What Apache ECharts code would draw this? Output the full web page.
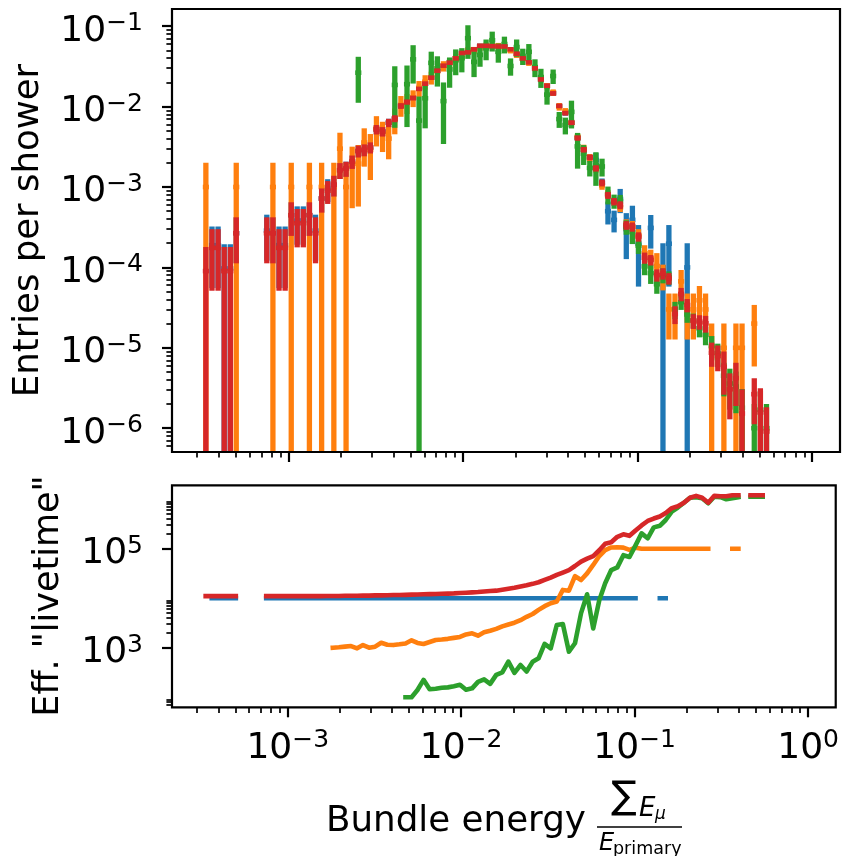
<!DOCTYPE html>
<html><head><meta charset="utf-8">
<script src="https://cdn.jsdelivr.net/npm/echarts@6/dist/echarts.min.js"></script>
<style>html,body{margin:0;padding:0;background:#fff}#c{width:842px;height:856px}</style>
</head><body><div id="c"></div>
<script>
// ---- bins: log10 of bin centres of the bundle-energy fraction ----
const binCenterLog10 = [-3.473,-3.438,-3.403,-3.368,-3.333,-3.299,-3.264,-3.229,-3.194,-3.159,
 -3.124,-3.089,-3.054,-3.019,-2.984,-2.950,-2.915,-2.880,-2.845,-2.810,
 -2.775,-2.740,-2.705,-2.670,-2.635,-2.600,-2.566,-2.531,-2.496,-2.461,
 -2.426,-2.391,-2.356,-2.321,-2.286,-2.252,-2.217,-2.182,-2.147,-2.112,
 -2.077,-2.042,-2.007,-1.972,-1.937,-1.903,-1.868,-1.833,-1.798,-1.763,
 -1.728,-1.693,-1.658,-1.623,-1.588,-1.554,-1.519,-1.484,-1.449,-1.414,
 -1.379,-1.344,-1.309,-1.274,-1.239,-1.204,-1.170,-1.135,-1.100,-1.065,
 -1.030,-0.995,-0.960,-0.925,-0.890,-0.855,-0.821,-0.786,-0.751,-0.716,
 -0.681,-0.646,-0.611,-0.576,-0.541,-0.506,-0.472,-0.437,-0.402,-0.367,
 -0.332,-0.297,-0.262];
const binWidthLog10 = 0.0349;

// ---- top panel: entries per shower (value) and effective entries (for errors) ----
const blueY = [null,1.89e-4,1.89e-4,9.7e-5,9.7e-5,2.66e-4,null,null,null,null,
 2.87e-4,2.66e-4,1.89e-4,1.89e-4,4.46e-4,3.83e-4,3.83e-4,4.46e-4,2.87e-4,7.2e-4,
 9.5e-4,1.07e-3,1.62e-3,1.70e-3,2.07e-3,2.8e-3,2.9e-3,3.1e-3,5.2e-3,4.9e-3,
 6.3e-3,7.1e-3,1.02e-2,1.14e-2,1.28e-2,1.7e-2,1.93e-2,2.29e-2,2.8e-2,3.23e-2,
 3.52e-2,3.98e-2,4.64e-2,4.73e-2,5.15e-2,5.7e-2,5.7e-2,5.65e-2,5.6e-2,5.6e-2,
 5.16e-2,4.55e-2,3.98e-2,3.55e-2,2.99e-2,2.18e-2,1.82e-2,1.46e-2,1.02e-2,8.3e-3,
 6.3e-3,4.07e-3,2.91e-3,2.34e-3,2.17e-3,1.13e-3,5.0e-4,3.9e-4,7.1e-4,3.0e-4,
 3.9e-4,1.97e-4,null,3.1e-4,null,1.0e-4,1.97e-4,null,null,1.0e-4,
 null,null,null,null,null,null,null,null,null,null,null,null,null];
const blueN = [null,2,2,1,1,3,null,null,null,null,
 3,3,2,2,5,4,4,5,3,9,
 10,12,20,22,28,35,35,40,55,55,
 70,100,150,200,250,300,350,400,450,500,
 550,600,650,700,720,740,740,740,740,740,
 720,700,650,600,550,450,420,340,300,250,
 230,180,160,150,20,60,10,11,9,3,
 4,2,null,5,null,1,2,null,null,1,
 null,null,null,null,null,null,null,null,null,null,null,null,null];

const orangeY = [1.0e-3,null,null,null,null,1.0e-3,null,null,null,null,
 null,1.0e-3,null,null,1.0e-3,null,null,1.0e-3,null,1.0e-3,
 null,1.0e-3,3.0e-3,1.0e-3,1.86e-3,1.95e-3,3.58e-3,2.89e-3,5.4e-3,4.6e-3,
 4.0e-3,7.0e-3,1.05e-2,1.12e-2,1.29e-2,1.7e-2,2.04e-2,2.3e-2,2.75e-2,3.2e-2,
 3.5e-2,4.0e-2,4.4e-2,5.0e-2,5.0e-2,5.5e-2,5.7e-2,5.7e-2,5.7e-2,5.5e-2,
 5.0e-2,4.4e-2,3.95e-2,3.5e-2,3.0e-2,2.2e-2,1.8e-2,1.5e-2,1.0e-2,8.8e-3,
 6.3e-3,4.2e-3,3.0e-3,2.3e-3,1.7e-3,1.05e-3,8.2e-4,6.6e-4,5.6e-4,3.4e-4,
 3.2e-4,2.5e-4,1.5e-4,1.3e-4,1.04e-4,8.0e-5,3.0e-5,3.0e-5,6.7e-5,3.0e-5,
 3.0e-5,3.9e-5,3.0e-5,1.0e-5,null,1.0e-5,null,1.0e-5,1.0e-5,null,
 2.0e-5,null,null];
const orangeN = [1,null,null,null,null,1,null,null,null,null,
 null,1,null,null,1,null,null,1,null,1,
 null,1,3,1,2,2,4,3,6,6,
 5,8,12,13,18,20,24,30,40,46,
 53,63,78,100,91,96,114,122,133,145,
 144,143,143,146,147,127,124,119,85,128,
 89,118,70,73,76,69,73,69,60,36,
 30,26,15,13,5,8,3,3,6.7,3,
 3,3.9,3,1,null,1,null,1,1,null,
 2,null,null];

const greenY = [null,null,null,null,null,null,null,null,null,null,
 null,null,null,null,null,null,null,null,null,null,
 null,null,null,null,null,2.64e-2,null,null,null,null,
 null,1.86e-2,null,1.9e-2,3.87e-2,6.7e-3,1.27e-2,3.5e-2,3.0e-2,1.17e-2,
 2.9e-2,3.8e-2,4.0e-2,7.1e-2,3.6e-2,4.4e-2,5.3e-2,6.7e-2,4.8e-2,6.0e-2,
 3.2e-2,5.5e-2,4.27e-2,4.8e-2,3.1e-2,2.33e-2,1.41e-2,2.4e-2,7.0e-3,5.9e-3,
 8.6e-3,3.2e-3,2.6e-3,1.73e-3,1.87e-3,1.8e-3,8.1e-4,6.7e-4,6.7e-4,3.2e-4,
 2.75e-4,1.87e-4,1.03e-4,8.5e-5,6.2e-5,8.0e-5,7.5e-5,3.0e-5,3.7e-5,2.6e-5,
 2.2e-5,1.75e-5,1.45e-5,1.05e-5,8.5e-6,4.5e-6,3.6e-6,3.3e-6,1.8e-6,null,
 1.0e-6,1.7e-6,1.0e-6];
const greenN = [null,null,null,null,null,null,null,null,null,null,
 null,null,null,null,null,null,null,null,null,null,
 null,null,null,null,null,3,null,null,null,null,
 null,2,null,2,4,1,3,7,6,2,
 6,8,9,5,8,12,12,13,14,18,
 17,17,19,16,16,14,16,24,20,18,
 7,4.5,13,21,5,16,16,25,28,24,
 12,22,20,14,17,23,28,17,25,22,
 23,19,15,9,9.5,5,3.6,3.5,2,null,
 1,2,1];

const redY = [9.0e-5,1.75e-4,1.75e-4,9.0e-5,9.0e-5,2.66e-4,null,null,null,null,
 2.66e-4,2.66e-4,1.75e-4,1.75e-4,4.46e-4,3.55e-4,3.55e-4,4.46e-4,2.66e-4,7.2e-4,
 9.0e-4,1.07e-3,1.62e-3,1.70e-3,2.07e-3,2.8e-3,2.9e-3,3.1e-3,5.2e-3,4.9e-3,
 6.3e-3,7.1e-3,1.02e-2,1.14e-2,1.28e-2,1.66e-2,1.93e-2,2.29e-2,2.8e-2,3.23e-2,
 3.52e-2,3.98e-2,4.64e-2,4.73e-2,5.15e-2,5.7e-2,5.7e-2,5.65e-2,5.6e-2,5.6e-2,
 5.16e-2,4.55e-2,3.98e-2,3.55e-2,2.99e-2,2.18e-2,1.82e-2,1.46e-2,1.02e-2,8.3e-3,
 6.3e-3,4.07e-3,2.91e-3,2.34e-3,1.71e-3,1.13e-3,7.9e-4,6.6e-4,5.97e-4,3.35e-4,
 3.2e-4,2.41e-4,1.32e-4,1.24e-4,8.05e-5,8.4e-5,7.3e-5,2.63e-5,4.67e-5,3.4e-5,
 2.17e-5,2.11e-5,2.02e-5,8.7e-6,7.9e-6,5.8e-6,3.05e-6,4.2e-6,1.52e-6,null,
 2.65e-6,1.57e-6,9.1e-7];
const redN = [1,2,2,1,1,3,null,null,null,null,
 3,3,2,2,5,4,4,5,3,9,
 10,12,20,22,28,35,35,40,55,55,
 70,100,150,200,250,300,350,400,450,500,
 550,600,650,700,720,740,740,740,740,740,
 720,700,650,600,550,450,420,340,300,250,
 230,180,160,150,120,100,100,90,80,65,
 58,56,40,45,33,38,38,16,28,28,
 23,24,18,9,8,3.3,3,3.3,1,null,
 3,1,1];

// ---- bottom panel: effective "livetime" ----
const blueLivetime = [null,1e4,1e4,1e4,1e4,1e4,null,null,null,null,
 1e4,1e4,1e4,1e4,1e4,1e4,1e4,1e4,1e4,1e4,
 1e4,1e4,1e4,1e4,1e4,1e4,1e4,1e4,1e4,1e4,
 1e4,1e4,1e4,1e4,1e4,1e4,1e4,1e4,1e4,1e4,
 1e4,1e4,1e4,1e4,1e4,1e4,1e4,1e4,1e4,1e4,
 1e4,1e4,1e4,1e4,1e4,1e4,1e4,1e4,1e4,1e4,
 1e4,1e4,1e4,1e4,1e4,1e4,1e4,1e4,1e4,1e4,
 1e4,1e4,null,1e4,null,1e4,1e4,null,null,1e4,
 null,null,null,null,null,null,null,null,null,null,null,null,null];
const orangeLivetime = [1.0e3,null,null,null,null,1.0e3,null,null,null,null,
 null,1.0e3,null,null,1.0e3,null,null,1.0e3,null,1.0e3,
 null,1.0e3,1.02e3,1.05e3,1.08e3,9.7e2,1.13e3,1.0e3,1.05e3,1.26e3,
 1.15e3,1.13e3,1.17e3,1.22e3,1.41e3,1.25e3,1.19e3,1.3e3,1.43e3,1.46e3,
 1.51e3,1.58e3,1.65e3,1.85e3,1.95e3,1.75e3,2.05e3,2.2e3,2.4e3,2.7e3,
 2.95e3,3.2e3,3.6e3,4.2e3,4.8e3,5.8e3,6.9e3,7.9e3,8.6e3,1.47e4,
 1.42e4,2.8e4,2.33e4,3.18e4,4.7e4,7.1e4,9.4e4,1.06e5,1.07e5,1.05e5,
 9.5e4,1.05e5,1.0e5,1.0e5,1.0e5,1.0e5,1.0e5,1.0e5,1.0e5,1.0e5,
 1.0e5,1.0e5,1.0e5,1.0e5,null,1.0e5,null,1.0e5,1.0e5,null,
 1.0e5,null,null];
const greenLivetime = [null,null,null,null,null,null,null,null,null,null,
 null,null,null,null,null,null,null,null,null,null,
 null,null,null,null,null,1.1e2,null,null,null,null,
 null,1.0e2,null,1.0e2,1.0e2,1.4e2,2.24e2,1.45e2,1.48e2,1.55e2,
 1.58e2,1.66e2,1.78e2,1.41e2,1.51e2,2.04e2,2.29e2,1.86e2,2.82e2,3.16e2,
 5.25e2,3.1e2,4.47e2,3.3e2,5.2e2,6.1e2,1.19e3,9.7e2,2.88e3,3.0e3,
 8.3e2,1.23e3,5.0e3,1.2e4,2.45e3,9.1e3,2.0e4,3.7e4,4.2e4,7.4e4,
 6.8e4,1.17e5,2.04e5,1.62e5,2.7e5,2.9e5,3.8e5,5.6e5,6.8e5,8.5e5,
 1.07e6,1.1e6,1.05e6,8.3e5,1.12e6,1.1e6,1.0e6,1.05e6,1.1e6,null,
 1.12e6,1.12e6,1.12e6];
const redLivetime = [1.1e4,1.1e4,1.1e4,1.1e4,1.1e4,1.1e4,null,null,null,null,
 1.1e4,1.1e4,1.1e4,1.1e4,1.1e4,1.1e4,1.1e4,1.1e4,1.1e4,1.1e4,
 1.11e4,1.11e4,1.11e4,1.12e4,1.12e4,1.12e4,1.13e4,1.13e4,1.14e4,1.14e4,
 1.15e4,1.16e4,1.16e4,1.17e4,1.18e4,1.19e4,1.2e4,1.21e4,1.22e4,1.23e4,
 1.24e4,1.25e4,1.27e4,1.29e4,1.31e4,1.33e4,1.37e4,1.4e4,1.42e4,1.48e4,
 1.55e4,1.62e4,1.72e4,1.82e4,1.95e4,2.1e4,2.34e4,2.6e4,2.95e4,3.3e4,
 3.7e4,4.47e4,5.5e4,6.3e4,7.1e4,9.3e4,1.26e5,1.35e5,1.74e5,1.95e5,
 1.82e5,2.34e5,2.95e5,3.63e5,4.07e5,4.47e5,5.25e5,6.6e5,7.2e5,8.5e5,
 1.07e6,1.17e6,1.07e6,8.5e5,1.17e6,1.15e6,1.15e6,1.2e6,1.2e6,null,
 1.2e6,1.2e6,1.2e6];

// ---- axes (log10 space) and tick labels ----
const xRangeLog10 = [-3.667, 0.159];
const topYRangeLog10 = [-6.296, -0.786];
const bottomYRangeLog10 = [1.796, 6.281];
const xMajorTicks = [-3, -2, -1, 0];
const topYMajorTicks = [-6, -5, -4, -3, -2, -1];
const bottomYMajorTicks = [3, 5];
const xMinorDecades = [-4, -3, -2, -1, 0];
const topYMinorDecades = [-7, -6, -5, -4, -3, -2, -1];
const bottomYMinorDecades = [1, 3, 5];
const colors = {blue:'#1f77b4', orange:'#ff7f0e', green:'#2ca02c', red:'#d62728'};

function minors(decades, range){
  const out = [];
  decades.forEach(d => { for (let k = 2; k <= 9; k++){ const v = Math.log10(k) + d; if (v >= range[0] && v <= range[1]) out.push(v); } });
  return out;
}
function powLabel(v){ const n = Math.round(v); return '{b|10}{s|' + (n < 0 ? '\u2212' + (-n) : '' + n) + '}'; }
const FONT = 'DejaVu Sans';
const rich = {
  b: {fontSize: 36, fontFamily: FONT, color: '#000', lineHeight: 40},
  s: {fontSize: 25, fontFamily: FONT, color: '#000', lineHeight: 25, verticalAlign: 'top'}
};
function majorAxis(grid, pos, range, ticks, labels, margin, pad){
  return {gridIndex: grid, type: 'value', position: pos, min: range[0], max: range[1],
    axisLine: {show: false, onZero: false}, splitLine: {show: false},
    axisTick: {show: true, inside: false, length: 10, lineStyle: {color: '#000', width: 2.2}, customValues: ticks},
    axisLabel: labels ? {show: true, customValues: ticks, formatter: powLabel, rich: rich, margin: margin, padding: pad} : {show: false}};
}
function minorAxis(grid, pos, range, ticks){
  return {gridIndex: grid, type: 'value', position: pos, min: range[0], max: range[1],
    axisLine: {show: false, onZero: false}, splitLine: {show: false},
    axisTick: {show: true, inside: false, length: 5.6, lineStyle: {color: '#000', width: 1.7}, customValues: ticks},
    axisLabel: {show: false}};
}

function errSeries(Y, N, color, z){
  const data = [];
  for (let i = 0; i < binCenterLog10.length; i++){
    const y = Y[i]; if (y == null) continue;
    const e = y / Math.sqrt(N[i]);
    const lo = (y - e) > 0 ? Math.log10(y - e) : topYRangeLog10[0] - 1;
    data.push([binCenterLog10[i], Math.log10(y), Math.log10(y + e), lo]);
  }
  return {type: 'custom', xAxisIndex: 0, yAxisIndex: 0, z: z, animation: false, data: data,
    renderItem: function(params, api){
      const cs = params.coordSys;
      const x = api.value(0);
      const pc = api.coord([x, api.value(1)]);
      const pu = api.coord([x, api.value(2)]);
      const pl = api.coord([x, api.value(3)]);
      const top = Math.max(cs.y, pu[1]);
      const bot = Math.min(cs.y + cs.height, pl[1]);
      const half = api.size([binWidthLog10, 0])[0] / 2;
      const ch = [];
      if (bot > top) ch.push({type: 'rect', shape: {x: pc[0] - 2.65, y: top, width: 5.3, height: bot - top}, style: {fill: color}});
      if (pc[1] > cs.y && pc[1] < cs.y + cs.height) ch.push({type: 'rect', shape: {x: pc[0] - half, y: pc[1] - 2.3, width: 2 * half, height: 4.6}, style: {fill: color}});
      return {type: 'group', children: ch};
    }};
}
function lineSeries(L, color, z){
  const data = binCenterLog10.map((x, i) => L[i] == null ? [x, '-'] : [x, Math.log10(L[i])]);
  return {type: 'line', xAxisIndex: 2, yAxisIndex: 2, z: z, data: data, showSymbol: false, symbol: 'none',
    connectNulls: false, animation: false, clip: true,
    lineStyle: {color: color, width: 4.6, cap: 'square', join: 'round'}};
}

const chart = echarts.init(document.getElementById('c'), null, {renderer: 'canvas'});
chart.setOption({
  backgroundColor: '#fff',
  textStyle: {fontFamily: FONT},
  animation: false,
  grid: [
    {left: 172, top: 9, width: 668, height: 443, show: true, borderColor: '#000', borderWidth: 2.2, backgroundColor: 'transparent', z: 10},
    {left: 172, top: 485.3, width: 668, height: 222, show: true, borderColor: '#000', borderWidth: 2.2, backgroundColor: 'transparent', z: 10}
  ],
  xAxis: [
    majorAxis(0, 'bottom', xRangeLog10, xMajorTicks, false),
    minorAxis(0, 'bottom', xRangeLog10, minors(xMinorDecades, xRangeLog10)),
    majorAxis(1, 'bottom', xRangeLog10, xMajorTicks, true, 21, 0),
    minorAxis(1, 'bottom', xRangeLog10, minors(xMinorDecades, xRangeLog10))
  ],
  yAxis: [
    majorAxis(0, 'left', topYRangeLog10, topYMajorTicks, true, 29, [10, 0, 0, 0]),
    minorAxis(0, 'left', topYRangeLog10, minors(topYMinorDecades, topYRangeLog10)),
    majorAxis(1, 'left', bottomYRangeLog10, bottomYMajorTicks, true, 29, [10, 0, 0, 0]),
    minorAxis(1, 'left', bottomYRangeLog10, minors(bottomYMinorDecades, bottomYRangeLog10))
  ],
  series: [
    errSeries(blueY, blueN, colors.blue, 2),
    errSeries(orangeY, orangeN, colors.orange, 3),
    errSeries(greenY, greenN, colors.green, 4),
    errSeries(redY, redN, colors.red, 5),
    lineSeries(blueLivetime, colors.blue, 2),
    lineSeries(orangeLivetime, colors.orange, 3),
    lineSeries(greenLivetime, colors.green, 4),
    lineSeries(redLivetime, colors.red, 5)
  ],
  graphic: [
    {type: 'text', x: 28.5, y: 230.5, rotation: Math.PI / 2, style: {text: 'Entries per shower', font: '35.5px "DejaVu Sans"', fill: '#000', textAlign: 'center', textVerticalAlign: 'middle'}},
    {type: 'text', x: 49, y: 596, rotation: Math.PI / 2, style: {text: 'Eff. "livetime"', font: '35px "DejaVu Sans"', fill: '#000', textAlign: 'center', textVerticalAlign: 'middle'}},
    {type: 'text', x: 326, y: 821.3, style: {text: 'Bundle energy', font: '35.7px "DejaVu Sans"', fill: '#000', textAlign: 'left', textVerticalAlign: 'middle'}},
    {type: 'text', x: 611, y: 798.5, style: {text: '\u2211', font: '38px "DejaVu Sans"', fill: '#000', textAlign: 'left', textVerticalAlign: 'middle'}},
    {type: 'text', x: 639, y: 809, style: {text: 'E', font: 'italic 26px "DejaVu Sans"', fill: '#000', textAlign: 'left', textVerticalAlign: 'middle'}},
    {type: 'text', x: 655, y: 815, style: {text: '\u03bc', font: 'italic 17px "DejaVu Sans"', fill: '#000', textAlign: 'left', textVerticalAlign: 'middle'}},
    {type: 'line', shape: {x1: 597, y1: 827, x2: 682, y2: 827}, style: {stroke: '#000', lineWidth: 1.6}},
    {type: 'text', x: 599, y: 843.5, style: {text: 'E', font: 'italic 24px "DejaVu Sans"', fill: '#000', textAlign: 'left', textVerticalAlign: 'middle'}},
    {type: 'text', x: 613, y: 849.5, style: {text: 'primary', font: '17.5px "DejaVu Sans"', fill: '#000', textAlign: 'left', textVerticalAlign: 'middle'}}
  ]
});
</script>
</body></html>
